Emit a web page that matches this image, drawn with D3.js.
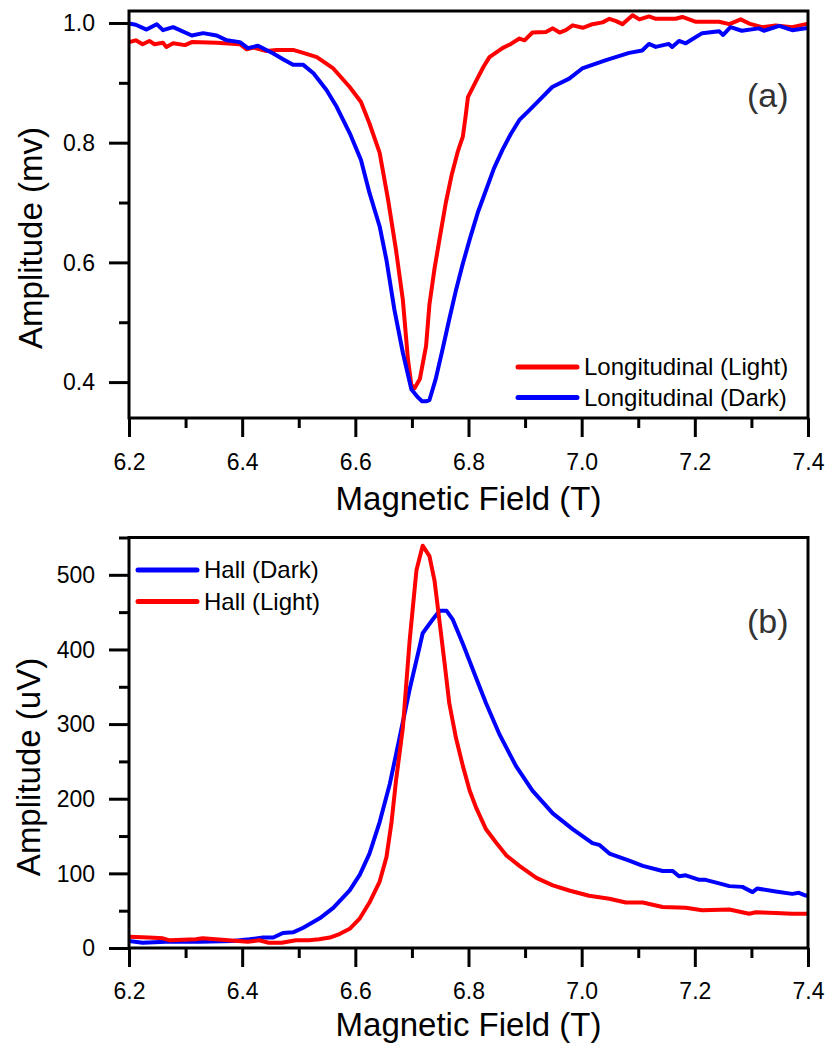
<!DOCTYPE html>
<html>
<head>
<meta charset="utf-8">
<script src="https://cdn.jsdelivr.net/npm/d3@7"></script>
<style>
  html, body { margin: 0; padding: 0; background: #fff; }
  svg { display: block; font-family: "Liberation Sans", Arial, sans-serif; }
</style>
</head>
<body>
<svg id="chart" width="829" height="1046"></svg>
<script>
// ---- Panel (a): longitudinal amplitude (mV) vs magnetic field (T) ----
const longLightField = [6.2, 6.212, 6.224, 6.236, 6.245, 6.26, 6.266, 6.278, 6.299, 6.311, 6.355, 6.396, 6.408, 6.42, 6.443, 6.461, 6.49, 6.508, 6.532, 6.561, 6.59, 6.61, 6.625, 6.643, 6.658, 6.672, 6.684, 6.693, 6.699, 6.705, 6.714, 6.725, 6.731, 6.74, 6.749, 6.76, 6.77, 6.781, 6.79, 6.795, 6.799, 6.814, 6.826, 6.837, 6.86, 6.875, 6.89, 6.899, 6.913, 6.937, 6.949, 6.961, 6.972, 6.984, 7.002, 7.019, 7.037, 7.049, 7.061, 7.072, 7.09, 7.102, 7.119, 7.131, 7.149, 7.166, 7.178, 7.202, 7.243, 7.261, 7.281, 7.296, 7.319, 7.343, 7.372, 7.396, 7.4];
const longLightAmp = [0.968, 0.971, 0.9645, 0.970, 0.9645, 0.967, 0.960, 0.966, 0.963, 0.968, 0.967, 0.9645, 0.956, 0.959, 0.953, 0.955, 0.955, 0.950, 0.943, 0.924, 0.893, 0.868, 0.832, 0.783, 0.704, 0.620, 0.537, 0.438, 0.395, 0.390, 0.405, 0.460, 0.530, 0.590, 0.640, 0.700, 0.745, 0.785, 0.810, 0.845, 0.876, 0.904, 0.926, 0.943, 0.958, 0.965, 0.974, 0.971, 0.984, 0.985, 0.991, 0.984, 0.988, 0.996, 0.992, 0.998, 1.001, 1.007, 1.003, 0.998, 1.013, 1.006, 1.011, 1.007, 1.007, 1.007, 1.010, 1.002, 1.002, 0.998, 1.006, 0.999, 0.993, 0.996, 0.993, 0.998, 0.999];

const longDarkField = [6.2, 6.212, 6.231, 6.249, 6.26, 6.278, 6.311, 6.331, 6.355, 6.373, 6.396, 6.41, 6.428, 6.455, 6.473, 6.49, 6.508, 6.526, 6.549, 6.567, 6.59, 6.61, 6.625, 6.643, 6.655, 6.669, 6.684, 6.699, 6.71, 6.718, 6.725, 6.731, 6.742, 6.754, 6.766, 6.778, 6.79, 6.802, 6.816, 6.831, 6.845, 6.86, 6.875, 6.89, 6.905, 6.92, 6.948, 6.978, 7.001, 7.043, 7.084, 7.107, 7.119, 7.131, 7.154, 7.16, 7.172, 7.184, 7.213, 7.243, 7.25, 7.263, 7.283, 7.313, 7.322, 7.349, 7.372, 7.396, 7.4];
const longDarkAmp = [0.999, 0.997, 0.989, 0.998, 0.988, 0.993, 0.979, 0.983, 0.979, 0.971, 0.968, 0.958, 0.962, 0.949, 0.939, 0.930, 0.930, 0.916, 0.888, 0.860, 0.816, 0.771, 0.716, 0.660, 0.604, 0.521, 0.449, 0.388, 0.375, 0.368, 0.368, 0.370, 0.405, 0.454, 0.505, 0.554, 0.598, 0.638, 0.682, 0.721, 0.757, 0.788, 0.815, 0.838, 0.852, 0.866, 0.893, 0.907, 0.924, 0.938, 0.950, 0.954, 0.965, 0.960, 0.965, 0.960, 0.970, 0.966, 0.983, 0.986, 0.980, 0.993, 0.987, 0.991, 0.987, 0.995, 0.988, 0.991, 0.991];

// ---- Panel (b): Hall amplitude (uV) vs magnetic field (T) ----
const hallDarkField = [6.2, 6.224, 6.265, 6.324, 6.383, 6.413, 6.437, 6.455, 6.472, 6.49, 6.508, 6.537, 6.561, 6.59, 6.608, 6.625, 6.643, 6.661, 6.678, 6.696, 6.714, 6.719, 6.737, 6.749, 6.761, 6.772, 6.79, 6.814, 6.831, 6.855, 6.884, 6.913, 6.949, 6.984, 7.019, 7.031, 7.049, 7.084, 7.108, 7.143, 7.161, 7.172, 7.184, 7.208, 7.219, 7.243, 7.261, 7.284, 7.302, 7.31, 7.343, 7.372, 7.384, 7.396, 7.4];
const hallDarkAmp = [9.4, 7, 8.4, 8.4, 9.4, 11.7, 14, 14, 20.1, 21, 27.2, 39.8, 53.8, 77.3, 98.4, 126.5, 168.7, 220.2, 281, 346.7, 405, 421.7, 440.4, 452, 452, 440.4, 407.6, 360.8, 328, 285.8, 243.6, 210.8, 180.3, 159.3, 140.6, 138.2, 126.5, 117.1, 110, 103.1, 103.1, 96, 97.4, 91.3, 91.3, 86.6, 82.9, 81.9, 74.9, 79.6, 75.8, 72.5, 73.9, 70.3, 70];

const hallLightField = [6.2, 6.235, 6.26, 6.272, 6.318, 6.33, 6.376, 6.41, 6.43, 6.447, 6.47, 6.495, 6.518, 6.536, 6.555, 6.572, 6.59, 6.608, 6.625, 6.643, 6.655, 6.664, 6.672, 6.684, 6.696, 6.708, 6.719, 6.731, 6.74, 6.749, 6.758, 6.766, 6.778, 6.79, 6.802, 6.814, 6.831, 6.849, 6.867, 6.89, 6.92, 6.949, 6.978, 7.013, 7.049, 7.078, 7.108, 7.143, 7.184, 7.213, 7.261, 7.296, 7.308, 7.343, 7.372, 7.4];
const hallLightAmp = [15, 14, 13, 10.3, 11.7, 13, 10.3, 8.4, 10.3, 7, 7, 10.3, 10.3, 11.7, 14, 18.7, 25.7, 39.8, 60.9, 89, 121.8, 168.7, 224.9, 295, 412, 506, 539, 525, 492, 436, 380, 328, 281, 244, 211, 187, 159, 141, 124, 110, 94, 84, 77, 70, 66, 61, 61, 55, 54, 50.6, 51.5, 45.9, 47.8, 46.9, 45.9, 45.9];

// ---- Axis ticks ----
const fieldTicks = [6.2, 6.4, 6.6, 6.8, 7.0, 7.2, 7.4];
const fieldMinorTicks = [6.3, 6.5, 6.7, 6.9, 7.1, 7.3];
const longTicks = [0.4, 0.6, 0.8, 1.0];
const longMinorTicks = [0.5, 0.7, 0.9];
const hallTicks = [0, 100, 200, 300, 400, 500];
const hallMinorTicks = [50, 150, 250, 350, 450, 550];

const RED = "#ff0000", BLUE = "#0000ff";

const svg = d3.select("#chart");

function drawPanel(cfg) {
  const { top, bottom, left, right } = cfg.box;
  const x = d3.scaleLinear().domain([6.2, 7.4]).range([left, right]);
  const y = d3.scaleLinear().domain(cfg.yDomain).range([bottom, top]);

  const g = svg.append("g");
  const clipId = "clip-" + cfg.id;
  g.append("clipPath").attr("id", clipId)
    .append("rect").attr("x", left).attr("y", top)
    .attr("width", right - left).attr("height", bottom - top);

  // curves
  const line = d3.line().x(d => x(d[0])).y(d => y(d[1]));
  const curves = g.append("g").attr("clip-path", `url(#${clipId})`);
  cfg.series.forEach(s => {
    curves.append("path")
      .datum(d3.zip(s.x, s.y))
      .attr("d", line)
      .attr("fill", "none")
      .attr("stroke", s.color)
      .attr("stroke-width", 4)
      .attr("stroke-linejoin", "round")
      .attr("stroke-linecap", "round");
  });

  // bottom axis: major + minor ticks
  const xMajor = g.append("g").attr("transform", `translate(0,${bottom})`)
    .call(d3.axisBottom(x).tickValues(fieldTicks).tickSize(19).tickSizeOuter(0)
      .tickFormat(d3.format(".1f")));
  const xMinor = g.append("g").attr("transform", `translate(0,${bottom})`)
    .call(d3.axisBottom(x).tickValues(fieldMinorTicks).tickSize(10).tickSizeOuter(0).tickFormat(""));

  // left axis
  const yMajor = g.append("g").attr("transform", `translate(${left},0)`)
    .call(d3.axisLeft(y).tickValues(cfg.yTicks).tickSize(20).tickSizeOuter(0)
      .tickFormat(cfg.yFormat));
  const yMinor = g.append("g").attr("transform", `translate(${left},0)`)
    .call(d3.axisLeft(y).tickValues(cfg.yMinor).tickSize(10).tickSizeOuter(0).tickFormat(""));

  [xMajor, xMinor, yMajor, yMinor].forEach(a => {
    a.select(".domain").remove();
    a.selectAll(".tick line").attr("stroke", "#000").attr("stroke-width", 3);
  });
  xMajor.selectAll(".tick text")
    .attr("y", cfg.xLabelOffset).attr("dy", 0)
    .attr("font-size", 23).attr("fill", "#000")
    .attr("font-family", "Liberation Sans, Arial, sans-serif");
  yMajor.selectAll(".tick text")
    .attr("x", -34).attr("dy", "0.34em")
    .attr("font-size", 23).attr("fill", "#000")
    .attr("font-family", "Liberation Sans, Arial, sans-serif");

  // frame
  g.append("rect")
    .attr("x", left).attr("y", top)
    .attr("width", right - left).attr("height", bottom - top)
    .attr("fill", "none").attr("stroke", "#000").attr("stroke-width", 3);

  // axis titles
  g.append("text")
    .attr("x", (left + right) / 2).attr("y", bottom + cfg.xTitleOffset)
    .attr("text-anchor", "middle").attr("font-size", 33).attr("fill", "#000")
    .text("Magnetic Field (T)");
  g.append("text")
    .attr("transform", `translate(${cfg.yTitleX},${cfg.yTitleY}) rotate(-90)`)
    .attr("text-anchor", "middle").attr("font-size", 33).attr("fill", "#000")
    .text(cfg.yTitle);

  // panel tag
  g.append("text")
    .attr("x", right - 61).attr("y", cfg.tagY)
    .attr("font-size", 34).attr("fill", "#333")
    .text(cfg.tag);

  // legend
  const leg = g.append("g");
  cfg.legend.items.forEach((it, i) => {
    const ly = cfg.legend.y + i * cfg.legend.step;
    leg.append("line")
      .attr("x1", cfg.legend.x).attr("x2", cfg.legend.x + 59)
      .attr("y1", ly).attr("y2", ly)
      .attr("stroke", it.color).attr("stroke-width", 5).attr("stroke-linecap", "round");
    leg.append("text")
      .attr("x", cfg.legend.x + 66).attr("y", ly + 8)
      .attr("font-size", 24).attr("fill", "#000")
      .text(it.label);
  });
}

drawPanel({
  id: "a",
  box: { top: 11, bottom: 418, left: 129, right: 808 },
  yDomain: [0.34, 1.02],
  yTicks: longTicks, yMinor: longMinorTicks, yFormat: d3.format(".1f"),
  series: [
    { x: longLightField, y: longLightAmp, color: RED },
    { x: longDarkField, y: longDarkAmp, color: BLUE }
  ],
  xLabelOffset: 52, xTitleOffset: 92,
  yTitle: "Amplitude (mv)", yTitleX: 42, yTitleY: 238,
  tag: "(a)", tagY: 107,
  legend: { x: 518, y: 367, step: 30.5, items: [
    { label: "Longitudinal (Light)", color: RED },
    { label: "Longitudinal (Dark)", color: BLUE }
  ]}
});

drawPanel({
  id: "b",
  box: { top: 537.5, bottom: 948, left: 129, right: 808 },
  yDomain: [0, 550],
  yTicks: hallTicks, yMinor: hallMinorTicks, yFormat: d3.format("d"),
  series: [
    { x: hallDarkField, y: hallDarkAmp, color: BLUE },
    { x: hallLightField, y: hallLightAmp, color: RED }
  ],
  xLabelOffset: 51, xTitleOffset: 88,
  yTitle: "Amplitude (uV)", yTitleX: 40, yTitleY: 767,
  tag: "(b)", tagY: 633,
  legend: { x: 138, y: 570, step: 31.5, items: [
    { label: "Hall (Dark)", color: BLUE },
    { label: "Hall (Light)", color: RED }
  ]}
});
</script>
</body>
</html>
